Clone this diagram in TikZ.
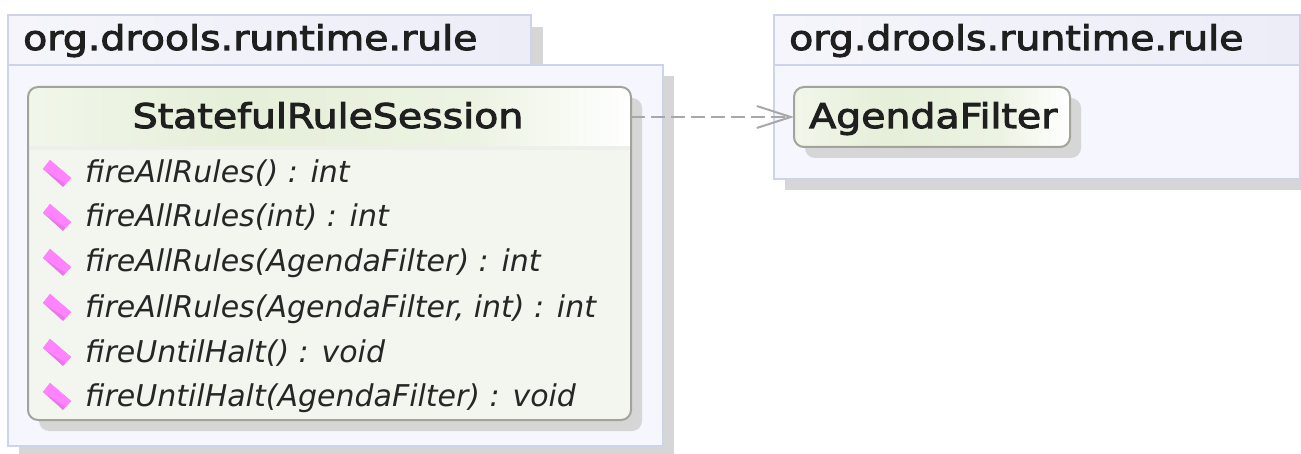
\documentclass[tikz,border=0pt]{standalone}
\usepackage{fontspec}
\setmainfont{DejaVu Sans}
\newfontfamily\titlefont[FakeStretch=1.16,FakeBold=3]{DejaVu Sans}
\usetikzlibrary{arrows.meta}
\definecolor{pkgfill}{HTML}{F6F7FE}
\definecolor{pkgline}{HTML}{CDD3E8}
\definecolor{tabA}{HTML}{F5F5FB}
\definecolor{tabB}{HTML}{ECEDF7}
\definecolor{shadowc}{HTML}{D6D6D6}
\definecolor{classfill}{HTML}{F3F6EF}
\definecolor{classline}{HTML}{A3A39B}
\definecolor{dividerc}{HTML}{EDEFEA}
\definecolor{iconc}{HTML}{FF82FF}
\definecolor{icond}{HTML}{E878E8}
\definecolor{linkc}{HTML}{A8A8A8}
\pgfdeclarehorizontalshading{headgrad}{100bp}{
  rgb(0bp)=(0.945,0.965,0.918);
  rgb(25bp)=(0.945,0.965,0.918);
  rgb(42bp)=(0.90,0.937,0.851);
  rgb(62bp)=(0.925,0.953,0.890);
  rgb(75bp)=(1,1,1);
  rgb(100bp)=(1,1,1)}
\tikzset{
  box/.style={anchor=north west,inner sep=0pt,outer sep=0pt,line width=1.6pt},
  pkgbody/.style={box,draw=pkgline,fill=pkgfill},
  pkgtab/.style={box,draw=pkgline,left color=tabA,right color=tabB},
  pkgshadow/.style={box,fill=shadowc,draw=none},
  classbox/.style={box,rounded corners=10pt,draw=classline,line width=2pt},
  classshadow/.style={box,rounded corners=10pt,fill=shadowc,draw=none},
  pkglabel/.style={anchor=base west,inner sep=0pt,font=\titlefont\fontsize{34}{38}\selectfont,text=black!88},
  member/.style={anchor=base west,inner sep=0pt,font=\itshape\fontsize{30}{34}\selectfont,text=black!85},
  link/.style={draw=linkc,line width=2pt,dash pattern=on 14pt off 6pt,-{Straight Barb[length=34pt,width=22pt,line width=2pt]}},
}
\newcommand{\methodicon}[1]{%
  \fill[icond,shift={(0,#1)}] (43,-4) -- (50,-13) -- (71,5) -- (63,14) -- cycle;
  \fill[iconc,shift={(0,#1)}] (43,-4) -- (50,-13) -- (71,5) -- (66,11) -- cycle;
}
\begin{document}
\begin{tikzpicture}[x=1pt,y=-1pt]
\useasboundingbox (0,0) rectangle (1301,454);
% left package
\node[pkgshadow,minimum width=12pt,minimum height=50pt] (ltabshadow) at (531,27) {};
\node[pkgshadow,minimum width=655pt,minimum height=381pt] (lshadow) at (19,76) {};
\node[pkgtab,minimum width=523pt,minimum height=50pt] (ltab) at (8,15) {};
\node[pkgbody,minimum width=655pt,minimum height=381pt] (lbody) at (8,65) {};
\node[pkglabel] (ltitle) at (23,50) {org.drools.runtime.rule};
% right package
\node[pkgshadow,minimum width=516pt,minimum height=130pt] (rshadow) at (785,60) {};
\node[pkgtab,minimum width=526pt,minimum height=50pt] (rtab) at (774,15) {};
\node[pkgbody,minimum width=526pt,minimum height=114pt] (rbody) at (774,65) {};
\node[pkglabel] (rtitle) at (789,50) {org.drools.runtime.rule};
% class
\node[classshadow,minimum width=603pt,minimum height=333pt] (cshadow) at (39,98) {};
\node[box,rounded corners=10pt,fill=classfill,minimum width=603pt,minimum height=333pt] (class) at (28,87) {};
\begin{scope}
  \clip (class.north west) [rounded corners=10pt] -- (class.north east) [sharp corners] -- ++(0,60) -- (28,147) -- cycle;
  \shade[shading=headgrad] (28,87) rectangle (631,147);
\end{scope}
\fill[dividerc] (29,146) rectangle (630,150);
\node[classbox,minimum width=603pt,minimum height=333pt] (classframe) at (28,87) {};
\node[pkglabel,anchor=base] (ctitle) at (328,128) {StatefulRuleSession};
\methodicon{173}\methodicon{217}\methodicon{262}\methodicon{307}\methodicon{352}\methodicon{396}
\node[member] (m1) at (85,183) {fireAllRules() : int};
\node[member] (m2) at (85,227) {fireAllRules(int) : int};
\node[member] (m3) at (85,272) {fireAllRules(AgendaFilter) : int};
\node[member] (m4) at (85,317) {fireAllRules(AgendaFilter, int) : int};
\node[member] (m5) at (85,362) {fireUntilHalt() : void};
\node[member] (m6) at (85,406) {fireUntilHalt(AgendaFilter) : void};
% agenda filter
\node[classshadow,minimum width=276pt,minimum height=60pt] (ashadow) at (805,98) {};
\node[classbox,minimum width=276pt,minimum height=60pt,shading=headgrad] (agenda) at (794,87) {};
\node[pkglabel] (atitle) at (809,128) {AgendaFilter};
% dependency
\draw[link] (agenda.west -| class.east) -- (agenda.west);
\end{tikzpicture}
\end{document}
